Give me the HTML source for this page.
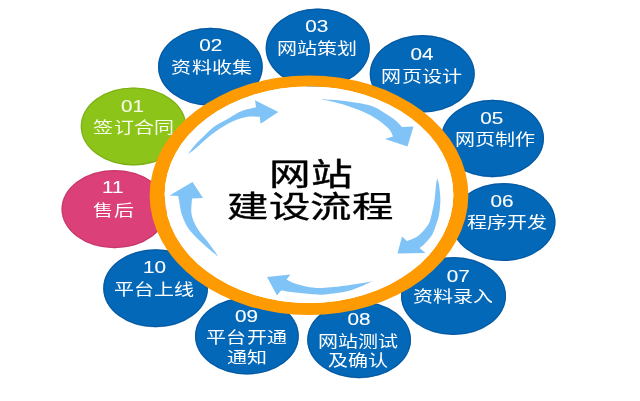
<!DOCTYPE html>
<html lang="zh-CN"><head><meta charset="utf-8">
<style>html,body{margin:0;padding:0;background:#fff;overflow:hidden}svg{display:block;filter:blur(0.45px)}</style>
</head><body>
<svg width="640" height="401" viewBox="0 0 640 401" style="font-family:'Liberation Sans',sans-serif">
<rect width="640" height="401" fill="#fff"/>

<ellipse cx="133.5" cy="126.4" rx="52.75" ry="39" fill="#8cc419"/>
<ellipse cx="133.5" cy="126.4" rx="52.15" ry="38.4" fill="none" stroke="#6f9e12" stroke-width="1.2" stroke-opacity="0.55"/>
<ellipse cx="210.4" cy="66.75" rx="52.4" ry="39" fill="#0468b8"/>
<ellipse cx="210.4" cy="66.75" rx="51.8" ry="38.4" fill="none" stroke="#034d8f" stroke-width="1.2" stroke-opacity="0.55"/>
<ellipse cx="317.75" cy="48" rx="52.1" ry="39.5" fill="#0468b8"/>
<ellipse cx="317.75" cy="48" rx="51.5" ry="38.9" fill="none" stroke="#034d8f" stroke-width="1.2" stroke-opacity="0.55"/>
<ellipse cx="422.25" cy="73.75" rx="52.5" ry="38.75" fill="#0468b8"/>
<ellipse cx="422.25" cy="73.75" rx="51.9" ry="38.15" fill="none" stroke="#034d8f" stroke-width="1.2" stroke-opacity="0.55"/>
<ellipse cx="492.5" cy="138.5" rx="51.5" ry="38.75" fill="#0468b8"/>
<ellipse cx="492.5" cy="138.5" rx="50.9" ry="38.15" fill="none" stroke="#034d8f" stroke-width="1.2" stroke-opacity="0.55"/>
<ellipse cx="503.5" cy="222" rx="52" ry="39" fill="#0468b8"/>
<ellipse cx="503.5" cy="222" rx="51.4" ry="38.4" fill="none" stroke="#034d8f" stroke-width="1.2" stroke-opacity="0.55"/>
<ellipse cx="453.5" cy="296" rx="52.5" ry="39" fill="#0468b8"/>
<ellipse cx="453.5" cy="296" rx="51.9" ry="38.4" fill="none" stroke="#034d8f" stroke-width="1.2" stroke-opacity="0.55"/>
<ellipse cx="359.1" cy="339.75" rx="51.9" ry="38.5" fill="#0468b8"/>
<ellipse cx="359.1" cy="339.75" rx="51.3" ry="37.9" fill="none" stroke="#034d8f" stroke-width="1.2" stroke-opacity="0.55"/>
<ellipse cx="246.9" cy="336" rx="51.9" ry="38.5" fill="#0468b8"/>
<ellipse cx="246.9" cy="336" rx="51.3" ry="37.9" fill="none" stroke="#034d8f" stroke-width="1.2" stroke-opacity="0.55"/>
<ellipse cx="155.6" cy="288.25" rx="52.4" ry="39" fill="#0468b8"/>
<ellipse cx="155.6" cy="288.25" rx="51.8" ry="38.4" fill="none" stroke="#034d8f" stroke-width="1.2" stroke-opacity="0.55"/>
<ellipse cx="114.5" cy="209.1" rx="53" ry="39.1" fill="#db4078"/>
<ellipse cx="114.5" cy="209.1" rx="52.4" ry="38.5" fill="none" stroke="#b8305f" stroke-width="1.2" stroke-opacity="0.55"/>
<path fill="#ff9b02" fill-rule="evenodd" d="M149.65,195.25 a159.35,119.75 0 1,0 318.7,0 a159.35,119.75 0 1,0 -318.7,0 Z M164.65,194.75 a144.35,108.25 0 1,0 288.7,0 a144.35,108.25 0 1,0 -288.7,0 Z"/>
<ellipse cx="309" cy="194.75" rx="144.35" ry="108.25" fill="#fff"/>
<path fill="#80c3f6" d="M188,154 C189.17,152.50 192.17,148.17 195.00,145.00 C197.83,141.83 201.67,138.17 205.00,135.00 C208.33,131.83 211.67,128.42 215.00,126.00 C218.33,123.58 221.67,122.42 225.00,120.50 C228.33,118.58 232.00,116.17 235.00,114.50 C238.00,112.83 239.50,111.72 243.00,110.50 C246.50,109.28 253.83,107.75 256.00,107.20 L255,100.2 L278.3,112 L260.6,123.8 L259.7,116.8 C257.67,116.80 251.62,116.18 247.50,116.80 C243.38,117.42 238.75,119.05 235.00,120.50 C231.25,121.95 228.33,123.58 225.00,125.50 C221.67,127.42 218.33,129.58 215.00,132.00 C211.67,134.42 208.33,137.17 205.00,140.00 C201.67,142.83 197.83,146.67 195.00,149.00 C192.17,151.33 189.17,153.17 188.00,154.00 Z"/>
<path fill="#80c3f6" d="M321.5,99.2 C325.42,99.50 336.92,99.95 345.00,101.00 C353.08,102.05 363.67,103.67 370.00,105.50 C376.33,107.33 378.83,109.58 383.00,112.00 C387.17,114.42 391.83,117.50 395.00,120.00 C398.17,122.50 400.83,125.83 402.00,127.00 L413.5,126.5 L407.5,146.5 L385,139 L393,136.5 C392.17,135.08 391.83,131.58 388.00,128.00 C384.17,124.42 377.17,118.83 370.00,115.00 C362.83,111.17 353.08,107.63 345.00,105.00 C336.92,102.37 325.42,100.17 321.50,99.20 Z"/>
<path fill="#80c3f6" d="M437.2,178.2 C437.50,179.33 438.47,181.37 439.00,185.00 C439.53,188.63 440.40,195.00 440.40,200.00 C440.40,205.00 439.73,210.83 439.00,215.00 C438.27,219.17 437.17,221.67 436.00,225.00 C434.83,228.33 433.92,231.83 432.00,235.00 C430.08,238.17 426.58,241.83 424.50,244.00 C422.42,246.17 420.33,247.33 419.50,248.00 L425.5,253 L397.5,253.5 L402,236.5 L407,241 C408.83,240.17 414.50,238.67 418.00,236.00 C421.50,233.33 425.75,228.50 428.00,225.00 C430.25,221.50 430.42,219.17 431.50,215.00 C432.58,210.83 433.75,205.00 434.50,200.00 C435.25,195.00 435.55,188.63 436.00,185.00 C436.45,181.37 437.00,179.33 437.20,178.20 Z"/>
<path fill="#80c3f6" d="M372.5,281.25 C368.75,281.88 357.92,283.91 350.00,285.00 C342.08,286.09 331.67,287.42 325.00,287.80 C318.33,288.18 315.00,288.02 310.00,287.30 C305.00,286.58 298.92,284.80 295.00,283.50 C291.08,282.20 287.92,280.17 286.50,279.50 L290.5,274.5 L267,277 L277,295.5 L281,290.5 C283.33,290.83 290.17,291.92 295.00,292.50 C299.83,293.08 305.00,293.68 310.00,294.00 C315.00,294.32 318.33,294.98 325.00,294.40 C331.67,293.82 342.08,292.69 350.00,290.50 C357.92,288.31 368.75,282.79 372.50,281.25 Z"/>
<path fill="#80c3f6" d="M218.7,256.9 C216.32,254.92 209.27,249.48 204.40,245.00 C199.53,240.52 193.23,235.00 189.50,230.00 C185.77,225.00 183.75,220.00 182.00,215.00 C180.25,210.00 179.62,203.17 179.00,200.00 C178.38,196.83 178.42,196.67 178.30,196.00 L169.5,195.5 L192.5,182 L203,198 L192,198.5 C191.95,201.25 190.63,209.75 191.70,215.00 C192.77,220.25 195.52,225.27 198.40,230.00 C201.28,234.73 205.62,238.92 209.00,243.40 C212.38,247.88 217.08,254.65 218.70,256.90 Z"/>
<g transform="translate(132.5,112.21) scale(1,0.775)"><text x="0" y="0" text-anchor="middle" font-size="20.7" fill="#f6fbe8" stroke="#f6fbe8" stroke-width="0.15">01</text></g>
<g transform="translate(133.6,133.26) scale(1,0.78)"><text x="0" y="0" text-anchor="middle" font-size="20" fill="#f6fbe8">签订合同</text></g>
<g transform="translate(210.85,51.01) scale(1,0.775)"><text x="0" y="0" text-anchor="middle" font-size="20.7" fill="#fff" stroke="#fff" stroke-width="0.15">02</text></g>
<g transform="translate(211.6,72.91) scale(1,0.78)"><text x="0" y="0" text-anchor="middle" font-size="20" fill="#fff">资料收集</text></g>
<g transform="translate(316.7,32.26) scale(1,0.775)"><text x="0" y="0" text-anchor="middle" font-size="20.7" fill="#fff" stroke="#fff" stroke-width="0.15">03</text></g>
<g transform="translate(317,54.31) scale(1,0.78)"><text x="0" y="0" text-anchor="middle" font-size="20" fill="#fff">网站策划</text></g>
<g transform="translate(421.9,60.01) scale(1,0.775)"><text x="0" y="0" text-anchor="middle" font-size="20.7" fill="#fff" stroke="#fff" stroke-width="0.15">04</text></g>
<g transform="translate(421.6,81.61) scale(1,0.78)"><text x="0" y="0" text-anchor="middle" font-size="20" fill="#fff">网页设计</text></g>
<g transform="translate(491.75,123.51) scale(1,0.775)"><text x="0" y="0" text-anchor="middle" font-size="20.7" fill="#fff" stroke="#fff" stroke-width="0.15">05</text></g>
<g transform="translate(495.4,145.41) scale(1,0.78)"><text x="0" y="0" text-anchor="middle" font-size="20" fill="#fff">网页制作</text></g>
<g transform="translate(501.9,206.61) scale(1,0.775)"><text x="0" y="0" text-anchor="middle" font-size="20.7" fill="#fff" stroke="#fff" stroke-width="0.15">06</text></g>
<g transform="translate(507.25,228.26) scale(1,0.78)"><text x="0" y="0" text-anchor="middle" font-size="20" fill="#fff">程序开发</text></g>
<g transform="translate(458.25,281.61) scale(1,0.775)"><text x="0" y="0" text-anchor="middle" font-size="20.7" fill="#fff" stroke="#fff" stroke-width="0.15">07</text></g>
<g transform="translate(453,302.01) scale(1,0.78)"><text x="0" y="0" text-anchor="middle" font-size="20" fill="#fff">资料录入</text></g>
<g transform="translate(359.1,324.86) scale(1,0.775)"><text x="0" y="0" text-anchor="middle" font-size="20.7" fill="#fff" stroke="#fff" stroke-width="0.15">08</text></g>
<g transform="translate(358.25,346.76) scale(1,0.78)"><text x="0" y="0" text-anchor="middle" font-size="20" fill="#fff">网站测试</text></g>
<g transform="translate(357.75,366.21) scale(1,0.78)"><text x="0" y="0" text-anchor="middle" font-size="20" fill="#fff">及确认</text></g>
<g transform="translate(246.5,321.91) scale(1,0.775)"><text x="0" y="0" text-anchor="middle" font-size="20.7" fill="#fff" stroke="#fff" stroke-width="0.15">09</text></g>
<g transform="translate(246.55,343.26) scale(1,0.78)"><text x="0" y="0" text-anchor="middle" font-size="20" fill="#fff">平台开通</text></g>
<g transform="translate(246.95,362.71) scale(1,0.78)"><text x="0" y="0" text-anchor="middle" font-size="20" fill="#fff">通知</text></g>
<g transform="translate(154.4,272.51) scale(1,0.775)"><text x="0" y="0" text-anchor="middle" font-size="20.7" fill="#fff" stroke="#fff" stroke-width="0.15">10</text></g>
<g transform="translate(154.4,294.76) scale(1,0.78)"><text x="0" y="0" text-anchor="middle" font-size="20" fill="#fff">平台上线</text></g>
<g transform="translate(112.75,193.21) scale(1,0.775)"><text x="0" y="0" text-anchor="middle" font-size="20.7" fill="#fff" stroke="#fff" stroke-width="0.15">11</text></g>
<g transform="translate(113.5,215.76) scale(1,0.78)"><text x="0" y="0" text-anchor="middle" font-size="20" fill="#fff">售后</text></g>
<g transform="translate(311.4,185) scale(1,0.747)"><text x="0" y="0" text-anchor="middle" font-size="41.6" fill="#000" stroke="#000" stroke-width="0.5">网站</text></g>
<g transform="translate(310.2,217.1) scale(1,0.714)"><text x="0" y="0" text-anchor="middle" font-size="41.4" fill="#000" stroke="#000" stroke-width="0.5">建设流程</text></g>
</svg></body></html>
